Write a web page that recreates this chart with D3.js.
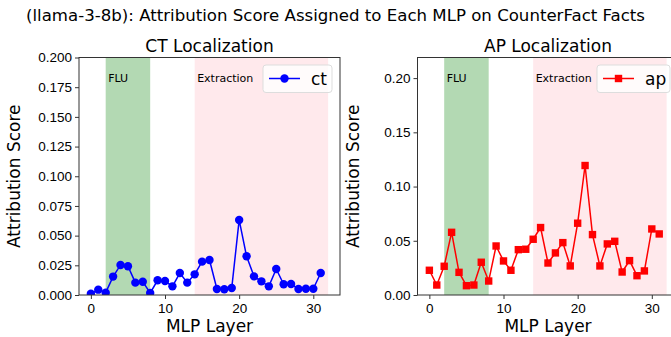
<!DOCTYPE html>
<html>
<head>
<meta charset="utf-8">
<script src="https://cdn.jsdelivr.net/npm/d3@7"></script>
<style>
  body { margin: 0; background: #fff; }
  svg { font-family: "DejaVu Sans", sans-serif; }
  .tick text { font-size: 13.5px; fill: #000; }
  .tick line, .domain { stroke: #333; }
</style>
</head>
<body>
<svg id="viz" width="671" height="337"></svg>
<script>
const svg = d3.select("#viz");

const layers = d3.range(0, 32);
const ctScores = [0.001, 0.0045, 0.002, 0.0155, 0.0253, 0.0242, 0.0104, 0.0112, 0.0017, 0.0124,
  0.0118, 0.0073, 0.0185, 0.0104, 0.0174, 0.0281, 0.0295, 0.0051, 0.0048, 0.0059,
  0.0632, 0.0326, 0.0157, 0.0115, 0.0073, 0.0219, 0.009, 0.0093, 0.0051, 0.0053,
  0.0053, 0.0185];
const apScores = [0.0228, 0.0092, 0.0265, 0.0578, 0.0209, 0.0086, 0.0092, 0.0302, 0.0129, 0.0452,
  0.0314, 0.0228, 0.0418, 0.0422, 0.0514, 0.0622, 0.0295, 0.0388, 0.0483, 0.0268,
  0.0662, 0.1194, 0.0557, 0.0268, 0.0471, 0.0495, 0.0212, 0.0317, 0.0178, 0.0222,
  0.0609, 0.0563];
const fluSpan = [2, 8];
const extractionSpan = [14, 32];
const xTicks = [0, 10, 20, 30];
const ctTicks = [0, 0.025, 0.05, 0.075, 0.1, 0.125, 0.15, 0.175, 0.2];
const apTicks = [0, 0.05, 0.1, 0.15, 0.2];

svg.append("text")
  .attr("x", 335.5).attr("y", 21)
  .attr("text-anchor", "middle")
  .attr("font-size", "16.6px")
  .text("(llama-3-8b): Attribution Score Assigned to Each MLP on CounterFact Facts");

function drawPanel(opts) {
  const top = 57.5, bottom = 295;
  const x = d3.scaleLinear().domain([-1.6, 33.6]).range([opts.left, opts.right]);
  const y = d3.scaleLinear().domain(opts.yDomain).range([bottom, top]);
  const g = svg.append("g");

  g.append("defs").append("clipPath").attr("id", "clip-" + opts.key)
    .append("rect").attr("x", opts.left).attr("y", top)
    .attr("width", opts.right - opts.left).attr("height", bottom - top);

  const body = g.append("g").attr("clip-path", `url(#clip-${opts.key})`);

  body.append("rect")
    .attr("x", x(fluSpan[0])).attr("y", top)
    .attr("width", x(fluSpan[1]) - x(fluSpan[0])).attr("height", bottom - top)
    .attr("fill", "rgb(179,217,179)");
  body.append("rect")
    .attr("x", x(extractionSpan[0])).attr("y", top)
    .attr("width", x(extractionSpan[1]) - x(extractionSpan[0])).attr("height", bottom - top)
    .attr("fill", "rgb(255,233,236)");

  g.append("text").attr("x", x(fluSpan[0]) + 2.5).attr("y", 81.5)
    .attr("font-size", "11px").text("FLU");
  g.append("text").attr("x", x(extractionSpan[0]) + 2.5).attr("y", 81.5)
    .attr("font-size", "11px").text("Extraction");

  const line = d3.line().x((d, i) => x(layers[i])).y(d => y(d));
  body.append("path").datum(opts.values)
    .attr("fill", "none").attr("stroke", opts.color).attr("stroke-width", 1.5)
    .attr("d", line);

  if (opts.marker === "circle") {
    body.selectAll("circle.pt").data(opts.values).join("circle")
      .attr("class", "pt")
      .attr("cx", (d, i) => x(layers[i])).attr("cy", d => y(d))
      .attr("r", 4.2).attr("fill", opts.color);
  } else {
    body.selectAll("rect.pt").data(opts.values).join("rect")
      .attr("class", "pt")
      .attr("x", (d, i) => x(layers[i]) - 3.7).attr("y", d => y(d) - 3.7)
      .attr("width", 7.4).attr("height", 7.4).attr("fill", opts.color);
  }

  g.append("g").attr("transform", `translate(0,${bottom})`)
    .call(d3.axisBottom(x).tickValues(xTicks).tickSize(4).tickPadding(4))
    .call(a => a.select(".domain").remove());
  g.append("g").attr("transform", `translate(${opts.left},0)`)
    .call(d3.axisLeft(y).tickValues(opts.yTicks).tickFormat(d3.format(opts.fmt)).tickSize(4).tickPadding(3))
    .call(a => a.select(".domain").remove());

  g.append("rect")
    .attr("x", opts.left).attr("y", top)
    .attr("width", opts.right - opts.left).attr("height", bottom - top)
    .attr("fill", "none").attr("stroke", "#333").attr("stroke-width", 1);

  g.append("text").attr("x", (opts.left + opts.right) / 2).attr("y", 52)
    .attr("text-anchor", "middle").attr("font-size", "17px").text(opts.title);

  g.append("text")
    .attr("transform", `translate(${opts.left - 59},${(top + bottom) / 2}) rotate(-90)`)
    .attr("text-anchor", "middle").attr("font-size", "17px").text("Attribution Score");
  g.append("text").attr("x", (opts.left + opts.right) / 2).attr("y", 332)
    .attr("text-anchor", "middle").attr("font-size", "17px").text("MLP Layer");

  // legend
  const lg = g.append("g").attr("transform", `translate(${opts.legendX},65)`);
  lg.append("rect").attr("width", opts.legendW).attr("height", 27.5).attr("rx", 3)
    .attr("fill", "rgba(255,255,255,0.8)").attr("stroke", "#ddd");
  lg.append("line").attr("x1", 6).attr("x2", 37).attr("y1", 13.5).attr("y2", 13.5)
    .attr("stroke", opts.color).attr("stroke-width", 1.5);
  if (opts.marker === "circle") {
    lg.append("circle").attr("cx", 21.5).attr("cy", 13.5).attr("r", 4.2).attr("fill", opts.color);
  } else {
    lg.append("rect").attr("x", 17.8).attr("y", 9.8).attr("width", 7.4).attr("height", 7.4).attr("fill", opts.color);
  }
  lg.append("text").attr("x", 48).attr("y", 19.5).attr("font-size", "17px").text(opts.key);
}

drawPanel({
  key: "ct", title: "CT Localization", left: 79, right: 340, values: ctScores,
  color: "blue", marker: "circle", yDomain: [0, 0.2], yTicks: ctTicks, fmt: ".3f",
  legendX: 263, legendW: 69
});
drawPanel({
  key: "ap", title: "AP Localization", left: 417.5, right: 678.5, values: apScores,
  color: "red", marker: "square", yDomain: [0, 0.219], yTicks: apTicks, fmt: ".2f",
  legendX: 597, legendW: 73
});
</script>
</body>
</html>
